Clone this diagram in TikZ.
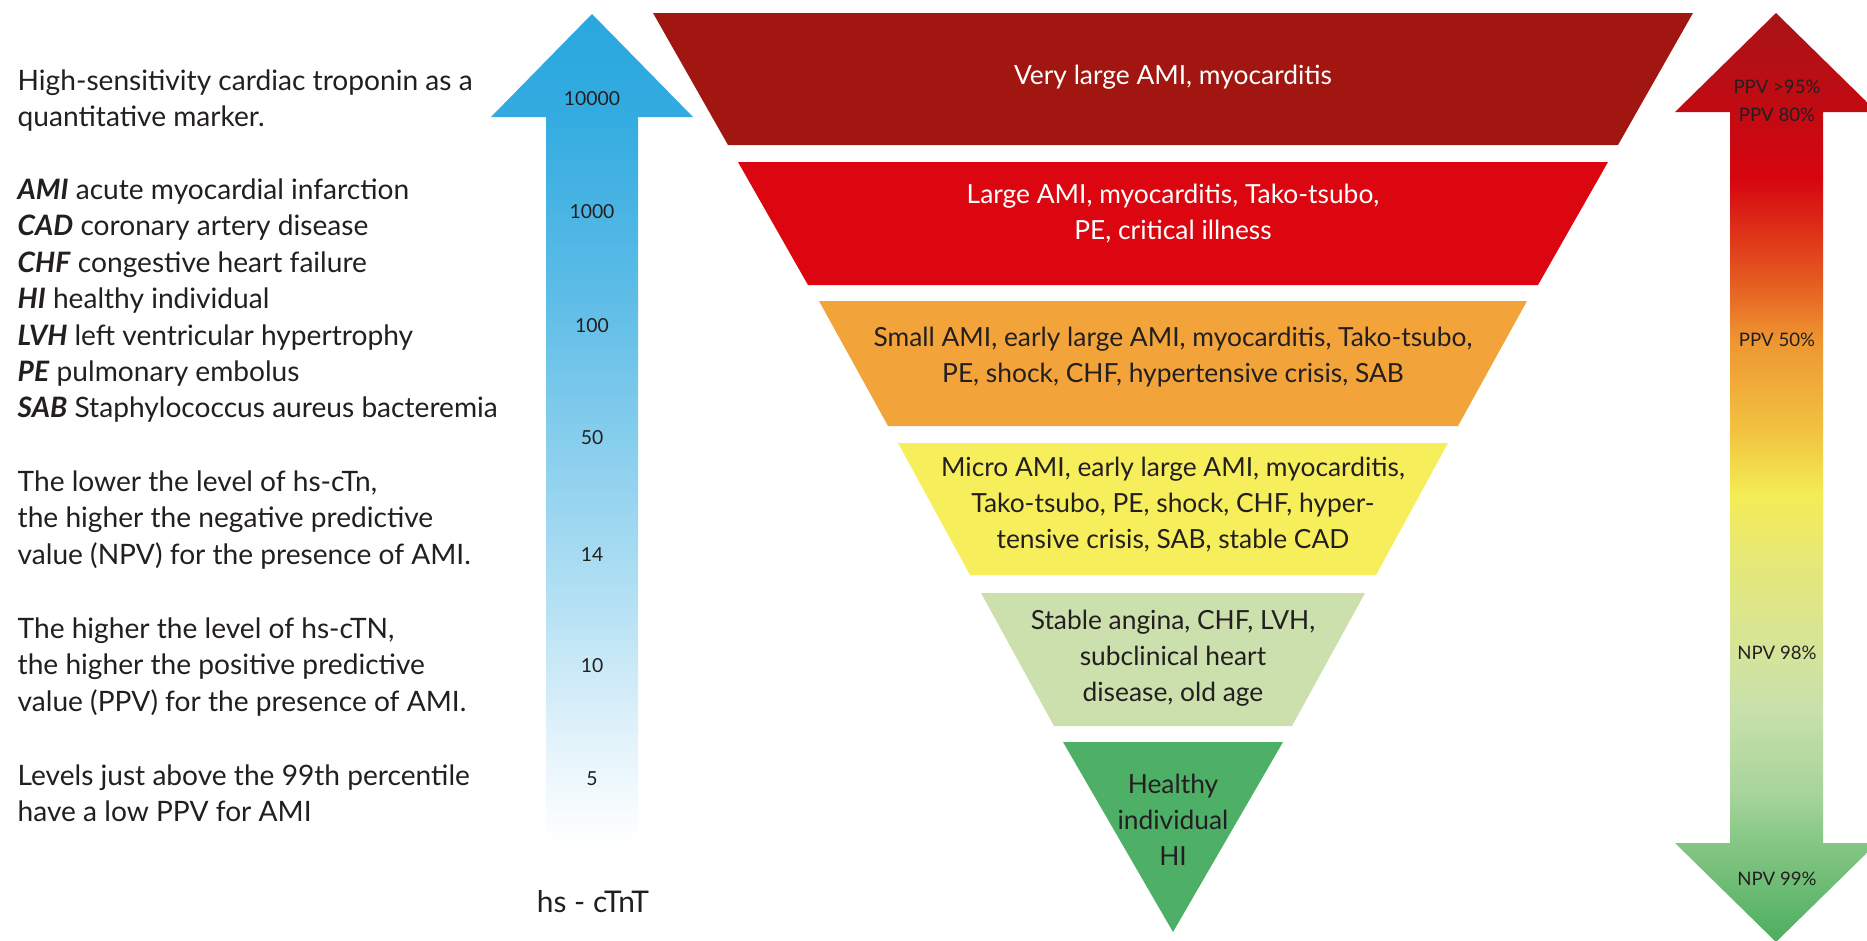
\documentclass[tikz,border=0pt]{standalone}
\usepackage{fontspec}
\setmainfont{Lato}
\usetikzlibrary{positioning}

\definecolor{bandA}{RGB}{161,22,16}
\definecolor{bandB}{RGB}{220,6,16}
\definecolor{bandC}{RGB}{242,164,58}
\definecolor{bandD}{RGB}{246,238,90}
\definecolor{bandE}{RGB}{203,224,172}
\definecolor{bandF}{RGB}{77,176,102}
\definecolor{inkgray}{RGB}{35,31,32}
\definecolor{tnblue}{RGB}{41,167,223}

% colours along the PPV / NPV arrow
\definecolor{pvA}{RGB}{168,20,24}
\definecolor{pvB}{RGB}{195,10,18}
\definecolor{pvC}{RGB}{215,6,15}
\definecolor{pvD}{RGB}{228,88,32}
\definecolor{pvE}{RGB}{238,150,50}
\definecolor{pvF}{RGB}{242,196,64}
\definecolor{pvG}{RGB}{244,236,85}
\definecolor{pvH}{RGB}{230,232,120}
\definecolor{pvI}{RGB}{212,228,154}
\definecolor{pvJ}{RGB}{201,224,172}
\definecolor{pvK}{RGB}{166,212,154}
\definecolor{pvL}{RGB}{132,198,132}
\definecolor{pvM}{RGB}{77,174,94}

\pgfdeclareverticalshading{troponin}{100bp}{
  color(0bp)=(white); color(25bp)=(white);
  color(30.7bp)=(tnblue!12); color(39.7bp)=(tnblue!35);
  color(48.8bp)=(tnblue!55); color(57.8bp)=(tnblue!75);
  color(68.8bp)=(tnblue!95); color(75bp)=(tnblue); color(100bp)=(tnblue)}

\pgfdeclareverticalshading{predictive}{100bp}{
  color(0bp)=(pvM); color(25bp)=(pvM);
  color(30.23bp)=(pvL); color(32.93bp)=(pvK); color(37.57bp)=(pvJ);
  color(40.48bp)=(pvI); color(45.5bp)=(pvH); color(49.1bp)=(pvG);
  color(52.35bp)=(pvF); color(57.36bp)=(pvE); color(60.76bp)=(pvD);
  color(66bp)=(pvC); color(69.66bp)=(pvB); color(75bp)=(pvA); color(100bp)=(pvA)}

\newcommand{\abbrev}[1]{\textbf{\textit{#1}}}

\begin{document}
\begin{tikzpicture}[
    legend/.style={anchor=north west, align=left, inner sep=0pt, text=inkgray,
      font=\fontsize{8}{10.36}\selectfont},
    bandtext/.style={align=center, inner sep=0pt,
      font=\fontsize{7.5}{10.25}\selectfont},
    level/.style={inner sep=0pt, text=inkgray, font=\fontsize{5.5}{6}\selectfont},
    pv/.style={inner sep=0pt, text=inkgray, font=\fontsize{5.3}{6}\selectfont}
  ]

    \path[use as bounding box, fill=white] (0,0) rectangle (18.67,-9.41);

    % Legend
    \node[legend] (intro) at (0.17,-0.69)
      {High-sensitivity cardiac troponin as a\\quantitative marker.};
    \node[legend] (abbr) at (0.17,-1.78)
      {\abbrev{AMI} acute myocardial infarction\\
       \abbrev{CAD} coronary artery disease\\
       \abbrev{CHF} congestive heart failure\\
       \abbrev{HI} healthy individual\\
       \abbrev{LVH} left ventricular hypertrophy\\
       \abbrev{PE} pulmonary embolus\\
       \abbrev{SAB} Staphylococcus aureus bacteremia};
    \node[legend] (npv) at (0.17,-4.70)
      {The lower the level of hs-cTn,\\the higher the negative predictive\\
       value (NPV) for the presence of AMI.};
    \node[legend] (ppv) at (0.17,-6.17)
      {The higher the level of hs-cTN,\\the higher the positive predictive\\
       value (PPV) for the presence of AMI.};
    \node[legend] (pct) at (0.17,-7.64)
      {Levels just above the 99th percentile\\have a low PPV for AMI};

    % hs-cTnT arrow
    \shade[shading=troponin]
        (5.92,-0.14) -- (6.93,-1.17) -- (6.38,-1.17) -- (6.38,-8.45)
        -- (5.46,-8.45) -- (5.46,-1.17) -- (4.91,-1.17) -- cycle;
    \node[level] (l10000) at (5.92,-0.99) {10000};
    \node[level] (l1000)  at (5.92,-2.12) {1000};
    \node[level] (l100)   at (5.92,-3.26) {100};
    \node[level] (l50)    at (5.92,-4.38) {50};
    \node[level] (l14)    at (5.92,-5.55) {14};
    \node[level] (l10)    at (5.92,-6.66) {10};
    \node[level] (l5)     at (5.92,-7.79) {5};
    \node[text=inkgray, inner sep=0pt, font=\fontsize{8.5}{10}\selectfont]
        (tnt) at (5.93,-9.02) {hs - cTnT};

    % Funnel
    \fill[bandA] (6.53,-0.13) -- (16.93,-0.13) -- (16.18,-1.45) -- (7.28,-1.45) -- cycle;
    \fill[bandB] (7.38,-1.62) -- (16.08,-1.62) -- (15.38,-2.85) -- (8.08,-2.85) -- cycle;
    \fill[bandC] (8.19,-3.01) -- (15.27,-3.01) -- (14.58,-4.26) -- (8.88,-4.26) -- cycle;
    \fill[bandD] (8.98,-4.43) -- (14.48,-4.43) -- (13.76,-5.75) -- (9.70,-5.75) -- cycle;
    \fill[bandE] (9.81,-5.93) -- (13.65,-5.93) -- (12.92,-7.26) -- (10.54,-7.26) -- cycle;
    \fill[bandF] (10.63,-7.42) -- (12.83,-7.42) -- (11.73,-9.32) -- cycle;

    \node[bandtext, text=white] (veryLarge) at (11.73,-0.77)
      {Very large AMI, myocarditis};
    \node[bandtext, text=white] (large) at (11.73,-2.14)
      {Large AMI, myocarditis, Tako-tsubo,\\PE, critical illness};
    \node[bandtext, text=inkgray] (small) at (11.73,-3.57)
      {Small AMI, early large AMI, myocarditis, Tako-tsubo,\\
       PE, shock, CHF, hypertensive crisis, SAB};
    \node[bandtext, text=inkgray] (micro) at (11.73,-5.05)
      {Micro AMI, early large AMI, myocarditis,\\
       Tako-tsubo, PE, shock, CHF, hyper-\\tensive crisis, SAB, stable CAD};
    \node[bandtext, text=inkgray] (stable) at (11.73,-6.58)
      {Stable angina, CHF, LVH,\\subclinical heart\\disease, old age};
    \node[bandtext, text=inkgray] (healthy) at (11.73,-8.20)
      {Healthy\\individual\\HI};

    % PPV / NPV arrow
    \shade[shading=predictive]
        (17.76,-0.13) -- (18.77,-1.12) -- (18.23,-1.12) -- (18.23,-8.43)
        -- (18.77,-8.43) -- (17.76,-9.42) -- (16.75,-8.43) -- (17.30,-8.43)
        -- (17.30,-1.12) -- (16.75,-1.12) -- cycle;
    \node[pv] (ppv95) at (17.77,-0.87) {PPV >95\%};
    \node[pv] (ppv80) at (17.77,-1.15) {PPV 80\%};
    \node[pv] (ppv50) at (17.77,-3.40) {PPV 50\%};
    \node[pv] (npv98) at (17.77,-6.53) {NPV 98\%};
    \node[pv] (npv99) at (17.77,-8.79) {NPV 99\%};

\end{tikzpicture}
\end{document}
